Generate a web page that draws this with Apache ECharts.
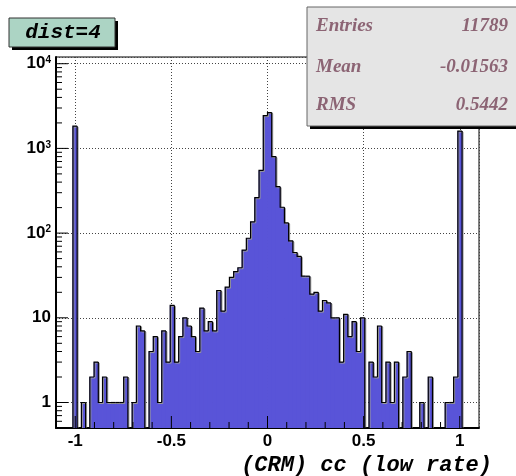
<!DOCTYPE html>
<html>
<head>
<meta charset="utf-8">
<script src="https://cdn.jsdelivr.net/npm/echarts@6/dist/echarts.min.js"></script>
<style>html,body{margin:0;padding:0;background:#fff}#c{width:516px;height:476px}</style>
</head>
<body>
<div id="c"></div>
<script>
// ---- data ----
const binStart = -1.1;
const binWidth = 0.022;
const counts = [
  0, 0, 0, 0, 1830, 0, 1, 0, 2, 3,
  1, 2, 1, 1, 1, 1, 2, 0, 1, 8,
  7, 0, 4, 6, 1, 7, 3, 14, 3, 6,
  10, 8, 6, 4, 13, 7, 9, 7, 21, 12,
  23, 30, 35, 39, 63, 87, 136, 262, 550, 2440,
  2650, 800, 353, 202, 132, 81, 59, 53, 31, 31,
  19, 20, 12, 16, 15, 10, 10, 3, 11, 6,
  9, 4, 10, 0, 3, 2, 8, 1, 3, 1,
  3, 0, 2, 4, 0, 0, 1, 0, 2, 0,
  0, 0, 1, 1, 2, 1600, 0, 0, 0, 0
];
const xMin = -1.1, xMax = 1.1;
const yMin = 0.5, yMax = 12000;
const xTickValues = [-1, -0.5, 0, 0.5, 1];
const xTickLabels = ['-1', '-0.5', '0', '0.5', '1'];
const xMinorTicks = [-0.9, -0.8, -0.7, -0.6, -0.4, -0.3, -0.2, -0.1, 0.1, 0.2, 0.3, 0.4, 0.6, 0.7, 0.8, 0.9];
const yTickValues = [1, 10, 100, 1000, 10000];
const yTickLabels = ['1', '10', '10{sup|2}', '10{sup|3}', '10{sup|4}'];
const yMinorTicks = [0.6, 0.7, 0.8, 0.9, 2, 3, 4, 5, 6, 7, 8, 9, 20, 30, 40, 50, 60, 70, 80, 90,
  200, 300, 400, 500, 600, 700, 800, 900, 2000, 3000, 4000, 5000, 6000, 7000, 8000, 9000];
const titleText = 'dist=4';
const xAxisTitle = '(CRM) cc (low rate)';
const statsLabels = ['Entries', 'Mean', 'RMS'];
const statsValues = ['11789', '-0.01563', '0.5442'];

// ---- build ----
const histData = counts.map((c, i) => [binStart + i * binWidth, c, binStart + (i + 1) * binWidth, i > 0 ? counts[i - 1] : 0]);
const yTickData = yTickValues.map(v => [xMin, v, 12]).concat(yMinorTicks.map(v => [xMin, v, 6]));
const xTickData = xTickValues.map(v => [v, yMin, 12]).concat(xMinorTicks.map(v => [v, yMin, 6]));

function near(a, b) { return Math.abs(a - b) <= 1e-6 * Math.max(1, Math.abs(b)); }

const chart = echarts.init(document.getElementById('c'), null, { renderer: 'canvas' });
const labelFont = { fontFamily: 'Liberation Sans', fontWeight: 'bold', fontSize: 17, color: '#000' };
const statsFont = 'italic bold 19px "Liberation Serif"';
const statsY = [26.5, 67, 105.5];

const statsGraphics = [];
statsLabels.forEach((t, i) => {
  statsGraphics.push({ type: 'text', z: 102, style: { x: 316, y: statsY[i], text: t, font: statsFont, fill: '#8c6474', align: 'left', verticalAlign: 'middle' } });
  statsGraphics.push({ type: 'text', z: 102, style: { x: 508, y: statsY[i], text: statsValues[i], font: statsFont, fill: '#8c6474', align: 'right', verticalAlign: 'middle' } });
});

chart.setOption({
  animation: false,
  grid: { left: 56, top: 57, width: 423, height: 371, show: true, borderColor: '#000', borderWidth: 1, backgroundColor: 'transparent' },
  xAxis: {
    type: 'value', min: xMin, max: xMax,
    axisLine: { show: true, onZero: false, lineStyle: { color: '#000', width: 2 } },
    axisTick: { show: false },
    splitLine: { show: true, lineStyle: { color: '#444', type: [1, 2], width: 1 } },
    axisLabel: Object.assign({ margin: 5, formatter: function (v) {
      for (let k = 0; k < xTickValues.length; k++) if (near(v, xTickValues[k])) return xTickLabels[k];
      return '';
    } }, labelFont)
  },
  yAxis: {
    type: 'log', min: yMin, max: yMax, logBase: 10,
    axisLine: { show: true, onZero: false, lineStyle: { color: '#000', width: 2 } },
    axisTick: { show: false },
    splitLine: { show: true, lineStyle: { color: '#444', type: [1, 2], width: 1 } },
    axisLabel: Object.assign({ margin: 5, formatter: function (v) {
      for (let k = 0; k < yTickValues.length; k++) if (near(v, yTickValues[k])) return yTickLabels[k];
      return '';
    }, rich: { sup: { fontFamily: 'Liberation Sans', fontWeight: 'bold', fontSize: 10, verticalAlign: 'top', lineHeight: 17 } } }, labelFont)
  },
  series: [
    {
      type: 'custom', name: 'hist', coordinateSystem: 'cartesian2d', clip: true, z: 2,
      encode: { x: 0, y: 1 },
      data: histData,
      renderItem: function (params, api) {
        const x0 = api.value(0), c = api.value(1), x1 = api.value(2), prev = api.value(3);
        const bottom = api.coord([x0, yMin])[1];
        const yc = c > 0 ? api.coord([x0, c])[1] : bottom;
        const yp = prev > 0 ? api.coord([x0, prev])[1] : bottom;
        const px0 = api.coord([x0, yMin])[0], px1 = api.coord([x1, yMin])[0];
        const children = [];
        if (c > 0) children.push({ type: 'rect', shape: { x: px0 - 0.4, y: yc, width: px1 - px0 + 0.8, height: bottom - yc }, style: { fill: '#5954d8', stroke: null } });
        const pts = [[px0, yp], [px0, yc], [px1, yc]];
        if (params.dataIndex === counts.length - 1) pts.push([px1, bottom]);
        children.push({ type: 'polyline', z2: 1, shape: { points: pts.map(p => [p[0] + 1, p[1] + 1]) }, style: { stroke: '#999', lineWidth: 1, fill: null } });
        children.push({ type: 'polyline', z2: 2, shape: { points: pts }, style: { stroke: '#000', lineWidth: 1.2, fill: null } });
        return { type: 'group', children: children };
      }
    },
    {
      type: 'custom', name: 'yticks', coordinateSystem: 'cartesian2d', clip: false, z: 5, silent: true,
      encode: { x: 0, y: 1 },
      data: yTickData,
      renderItem: function (params, api) {
        const p = api.coord([api.value(0), api.value(1)]);
        const len = api.value(2);
        return { type: 'line', shape: { x1: p[0], y1: p[1], x2: p[0] + len, y2: p[1] }, style: { stroke: '#000', lineWidth: 1 } };
      }
    },
    {
      type: 'custom', name: 'xticks', coordinateSystem: 'cartesian2d', clip: false, z: 5, silent: true,
      encode: { x: 0, y: 1 },
      data: xTickData,
      renderItem: function (params, api) {
        const p = api.coord([api.value(0), api.value(1)]);
        const len = api.value(2);
        return { type: 'line', shape: { x1: p[0], y1: p[1], x2: p[0], y2: p[1] - len }, style: { stroke: '#000', lineWidth: 1 } };
      }
    }
  ],
  graphic: [
    { type: 'rect', z: 100, shape: { x: 12, y: 21, width: 106, height: 29 }, style: { fill: '#000' } },
    { type: 'rect', z: 101, shape: { x: 9, y: 18, width: 106, height: 29 }, style: { fill: '#acd4c4', stroke: '#333', lineWidth: 1 } },
    { type: 'text', z: 102, style: { x: 63, y: 33, text: titleText, font: 'italic bold 21px "Liberation Mono"', fill: '#000', align: 'center', verticalAlign: 'middle' } },
    { type: 'rect', z: 100, shape: { x: 310, y: 10, width: 220, height: 119 }, style: { fill: '#000' } },
    { type: 'rect', z: 101, shape: { x: 307, y: 7, width: 220, height: 119 }, style: { fill: '#e5e5e5', stroke: '#666', lineWidth: 1 } },
    { type: 'text', z: 102, style: { x: 492, y: 465, text: xAxisTitle, font: 'italic bold 22px "Liberation Mono"', fill: '#000', align: 'right', verticalAlign: 'middle' } }
  ].concat(statsGraphics)
});
</script>
</body>
</html>
